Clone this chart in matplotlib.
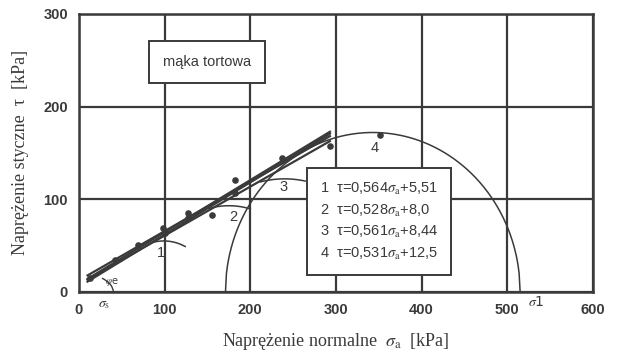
import numpy as np
import matplotlib.pyplot as plt
from matplotlib.patches import Arc

plt.rcParams['mathtext.fontset'] = 'stix'

# Dane
sigma_pts = [13, 42, 69, 98, 100, 127, 127, 155, 182, 182, 237, 293, 351]
tau_pts = [15, 34, 51, 69, 64, 85, 80, 83, 107, 121, 145, 157, 169]

# proste Coulomba: nachylenie, wyraz wolny
slopes = [0.564, 0.528, 0.561, 0.531]
intercepts = ['5,51', '8,0', '8,44', '12,5']
line_labels = ['1', '2', '3', '4']

# koła Mohra: środek, promień, zakres rysowanego łuku (sigma)
circle_centers = [99, 175, 240, 343]
circle_radii = [55, 93, 122, 172]
arc_ranges = [(88, 124), (152, 200), (212, 264), (171, 515)]

ink = '#3a3a3a'
fig = plt.figure(figsize=(6.17, 3.64), dpi=100)
ax = fig.add_axes([0.128, 0.198, 0.833, 0.764])

ax.set_xlim(0, 600)
ax.set_ylim(0, 300)
ax.set_xticks(range(0, 601, 100))
ax.set_yticks(range(0, 301, 100))
ax.grid(True, color=ink, lw=1.6)
ax.tick_params(length=0, pad=8, labelsize=10.5, colors=ink)
for lab in ax.get_xticklabels() + ax.get_yticklabels():
    lab.set_fontweight('bold')
    lab.set_family('Liberation Sans')
for s in ax.spines.values():
    s.set_color(ink)
    s.set_linewidth(1.8)

# proste
xs = np.array([10, 293])
for a, b in zip(slopes, intercepts):
    b = float(b.replace(',', '.'))
    ax.plot(xs, a * xs + b, color=ink, lw=1.6, zorder=3)

# koła Mohra
for c, r, (s0, s1) in zip(circle_centers, circle_radii, arc_ranges):
    ss = np.linspace(max(s0, c - r), min(s1, c + r), 300)
    tt = np.sqrt(np.clip(r**2 - (ss - c)**2, 0, None))
    ax.plot(ss, tt, color=ink, lw=1.1, zorder=3)

ax.scatter(sigma_pts, tau_pts, s=14, color=ink, zorder=4)

# numery kół
num_kw = dict(fontsize=10.5, color=ink, family='Liberation Sans', zorder=5,
              ha='center', va='center')
ax.text(96, 42, '1', **num_kw)
ax.text(180, 81, '2', **num_kw)
ax.text(239, 113, '3', **num_kw)
ax.text(345, 155, '4', **num_kw)

# kąt tarcia
ax.add_patch(Arc((0, 0), 80, 40, theta1=0, theta2=29, color=ink, lw=1))
ax.text(30, 9, r'$\varphi$e', fontsize=7, color=ink)
ax.text(22, -16, r'$\sigma_{\rm s}$', fontsize=10, color=ink, clip_on=False)
ax.text(524, -15, r'$\sigma$1', fontsize=10, color=ink, clip_on=False)

# napis z nazwą materiału
ax.text(149, 248, 'mąka tortowa', ha='center', va='center', fontsize=10.5,
        color=ink, family='Liberation Sans',
        bbox=dict(boxstyle='square,pad=0.95', fc='white', ec=ink, lw=1.4),
        zorder=6)

# równania
eqs = [f'{n}  τ=' + f'{a:.3f}'.replace('.', ',') + r'$\sigma_{\rm a}$' + f'+{b}'
       for n, a, b in zip(line_labels, slopes, intercepts)]
ax.text(281, 76, '\n'.join(eqs), ha='left', va='center', fontsize=10.5,
        color=ink, family='Liberation Sans', linespacing=1.45,
        bbox=dict(boxstyle='square,pad=0.9', fc='white', ec=ink, lw=1.4),
        zorder=6)

ax.set_xlabel(r'Naprężenie normalne  $\sigma_{\rm a}$  [kPa]', family='Liberation Serif',
              fontsize=13, color=ink, labelpad=10)
ax.set_ylabel('Naprężenie styczne  τ  [kPa]', family='Liberation Serif',
              fontsize=13, color=ink, labelpad=10)

fig.savefig('out.png', dpi=100)
